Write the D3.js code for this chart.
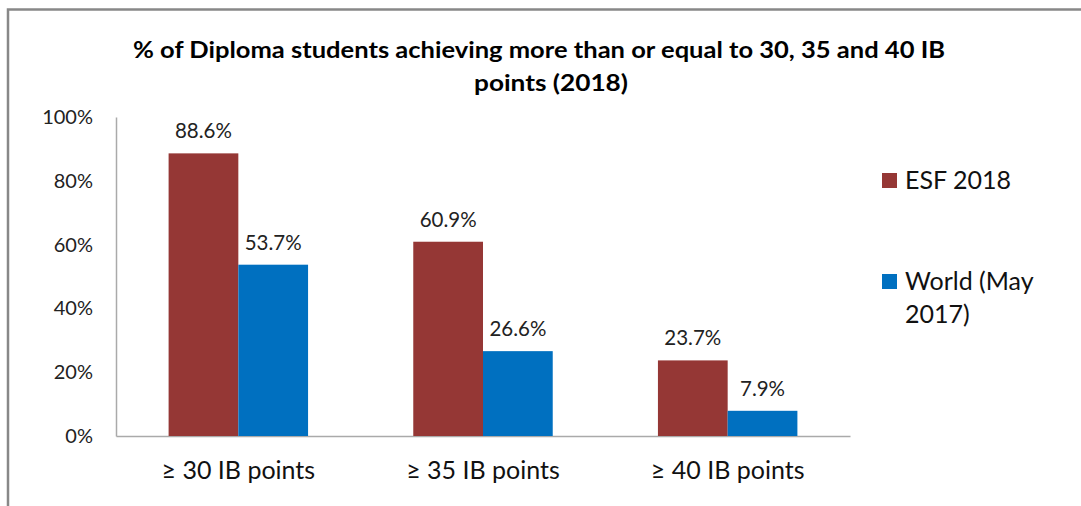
<!DOCTYPE html>
<html><head><meta charset="utf-8">
<script src="https://cdn.jsdelivr.net/npm/d3@7"></script>
<style>html,body{margin:0;padding:0;background:#fff;}svg{display:block;}</style>
</head><body>
<svg id="c" width="1081" height="506"></svg>
<script>
const categories = ["≥ 30 IB points", "≥ 35 IB points", "≥ 40 IB points"];
const seriesNames = ["ESF 2018", "World (May 2017)"];
const esf2018 = [88.6, 60.9, 23.7];
const world2017 = [53.7, 26.6, 7.9];
const yTicks = [0, 20, 40, 60, 80, 100];
const colors = ["#953735", "#0070C0"];
const titleLines = ["% of Diploma students achieving more than or equal to 30, 35 and 40 IB", "points (2018)"];

(function () {
const font = "Lato, 'Open Sans', sans-serif";
const svg = d3.select("#c");

// frame
svg.append("path").attr("d", "M8,506 L8,9.5 L1081,9.5")
  .attr("fill", "none").attr("stroke", "#888").attr("stroke-width", 2.5);

const mLeft = 116, mRight = 850, mTop = 117, mBottom = 436;
const x = d3.scaleBand().domain(categories).range([mLeft, mRight]).paddingInner(0.43).paddingOuter(0.215);
const x1 = d3.scaleBand().domain(seriesNames).range([0, x.bandwidth()]);
const y = d3.scaleLinear().domain([0, 100]).range([mBottom, mTop]);

// title
const t = svg.append("text").attr("text-anchor", "middle").attr("font-family", font)
  .attr("font-weight", "bold").attr("font-size", 23).attr("fill", "#000");
t.append("tspan").attr("x", 539).attr("y", 58).attr("textLength", 812).attr("lengthAdjust", "spacingAndGlyphs").text(titleLines[0]);
t.append("tspan").attr("x", 551).attr("y", 91).attr("textLength", 154).attr("lengthAdjust", "spacingAndGlyphs").text(titleLines[1]);

// y axis
const yAxis = svg.append("g").attr("transform", `translate(${mLeft},0)`)
  .call(d3.axisLeft(y).tickValues(yTicks).tickFormat(d => d + "%").tickSize(0).tickPadding(23));
yAxis.select(".domain").attr("stroke", "#aaa").attr("stroke-width", 1.5);
yAxis.selectAll("text").attr("font-family", font).attr("font-size", 20).attr("fill", "#222");

// x axis
const xAxis = svg.append("g").attr("transform", `translate(0,${mBottom})`)
  .call(d3.axisBottom(x).tickSize(0).tickPadding(25));
xAxis.select(".domain").attr("stroke", "#aaa").attr("stroke-width", 1.5);
xAxis.selectAll("text").attr("font-family", font).attr("font-size", 25).attr("fill", "#111");

const data = categories.map((c, i) => ({c, vals: [esf2018[i], world2017[i]]}));
const g = svg.append("g").selectAll("g").data(data).join("g")
  .attr("transform", d => `translate(${x(d.c)},0)`);
g.selectAll("rect").data(d => d.vals.map((v, j) => ({v, s: seriesNames[j], j}))).join("rect")
  .attr("x", d => x1(d.s)).attr("width", x1.bandwidth())
  .attr("y", d => y(d.v)).attr("height", d => mBottom - y(d.v))
  .attr("fill", d => colors[d.j]);
g.selectAll("text.lbl").data(d => d.vals.map((v, j) => ({v, s: seriesNames[j], j}))).join("text")
  .attr("class", "lbl")
  .attr("x", d => x1(d.s) + x1.bandwidth() / 2).attr("y", d => y(d.v) - 15)
  .attr("text-anchor", "middle").attr("font-family", font).attr("font-size", 20.5).attr("fill", "#222")
  .text(d => d.v.toFixed(1) + "%");

// legend
const leg = svg.append("g");
leg.append("rect").attr("x", 882).attr("y", 173).attr("width", 15).attr("height", 15).attr("fill", colors[0]);
leg.append("text").attr("x", 905).attr("y", 189).attr("font-family", font).attr("font-size", 25).attr("fill", "#111").text(seriesNames[0]);
leg.append("rect").attr("x", 882).attr("y", 274).attr("width", 15).attr("height", 15).attr("fill", colors[1]);
const lt = leg.append("text").attr("font-family", font).attr("font-size", 25).attr("fill", "#111");
lt.append("tspan").attr("x", 905).attr("y", 290).text("World (May");
lt.append("tspan").attr("x", 905).attr("y", 323).text("2017)");
})();
</script>
</body></html>
